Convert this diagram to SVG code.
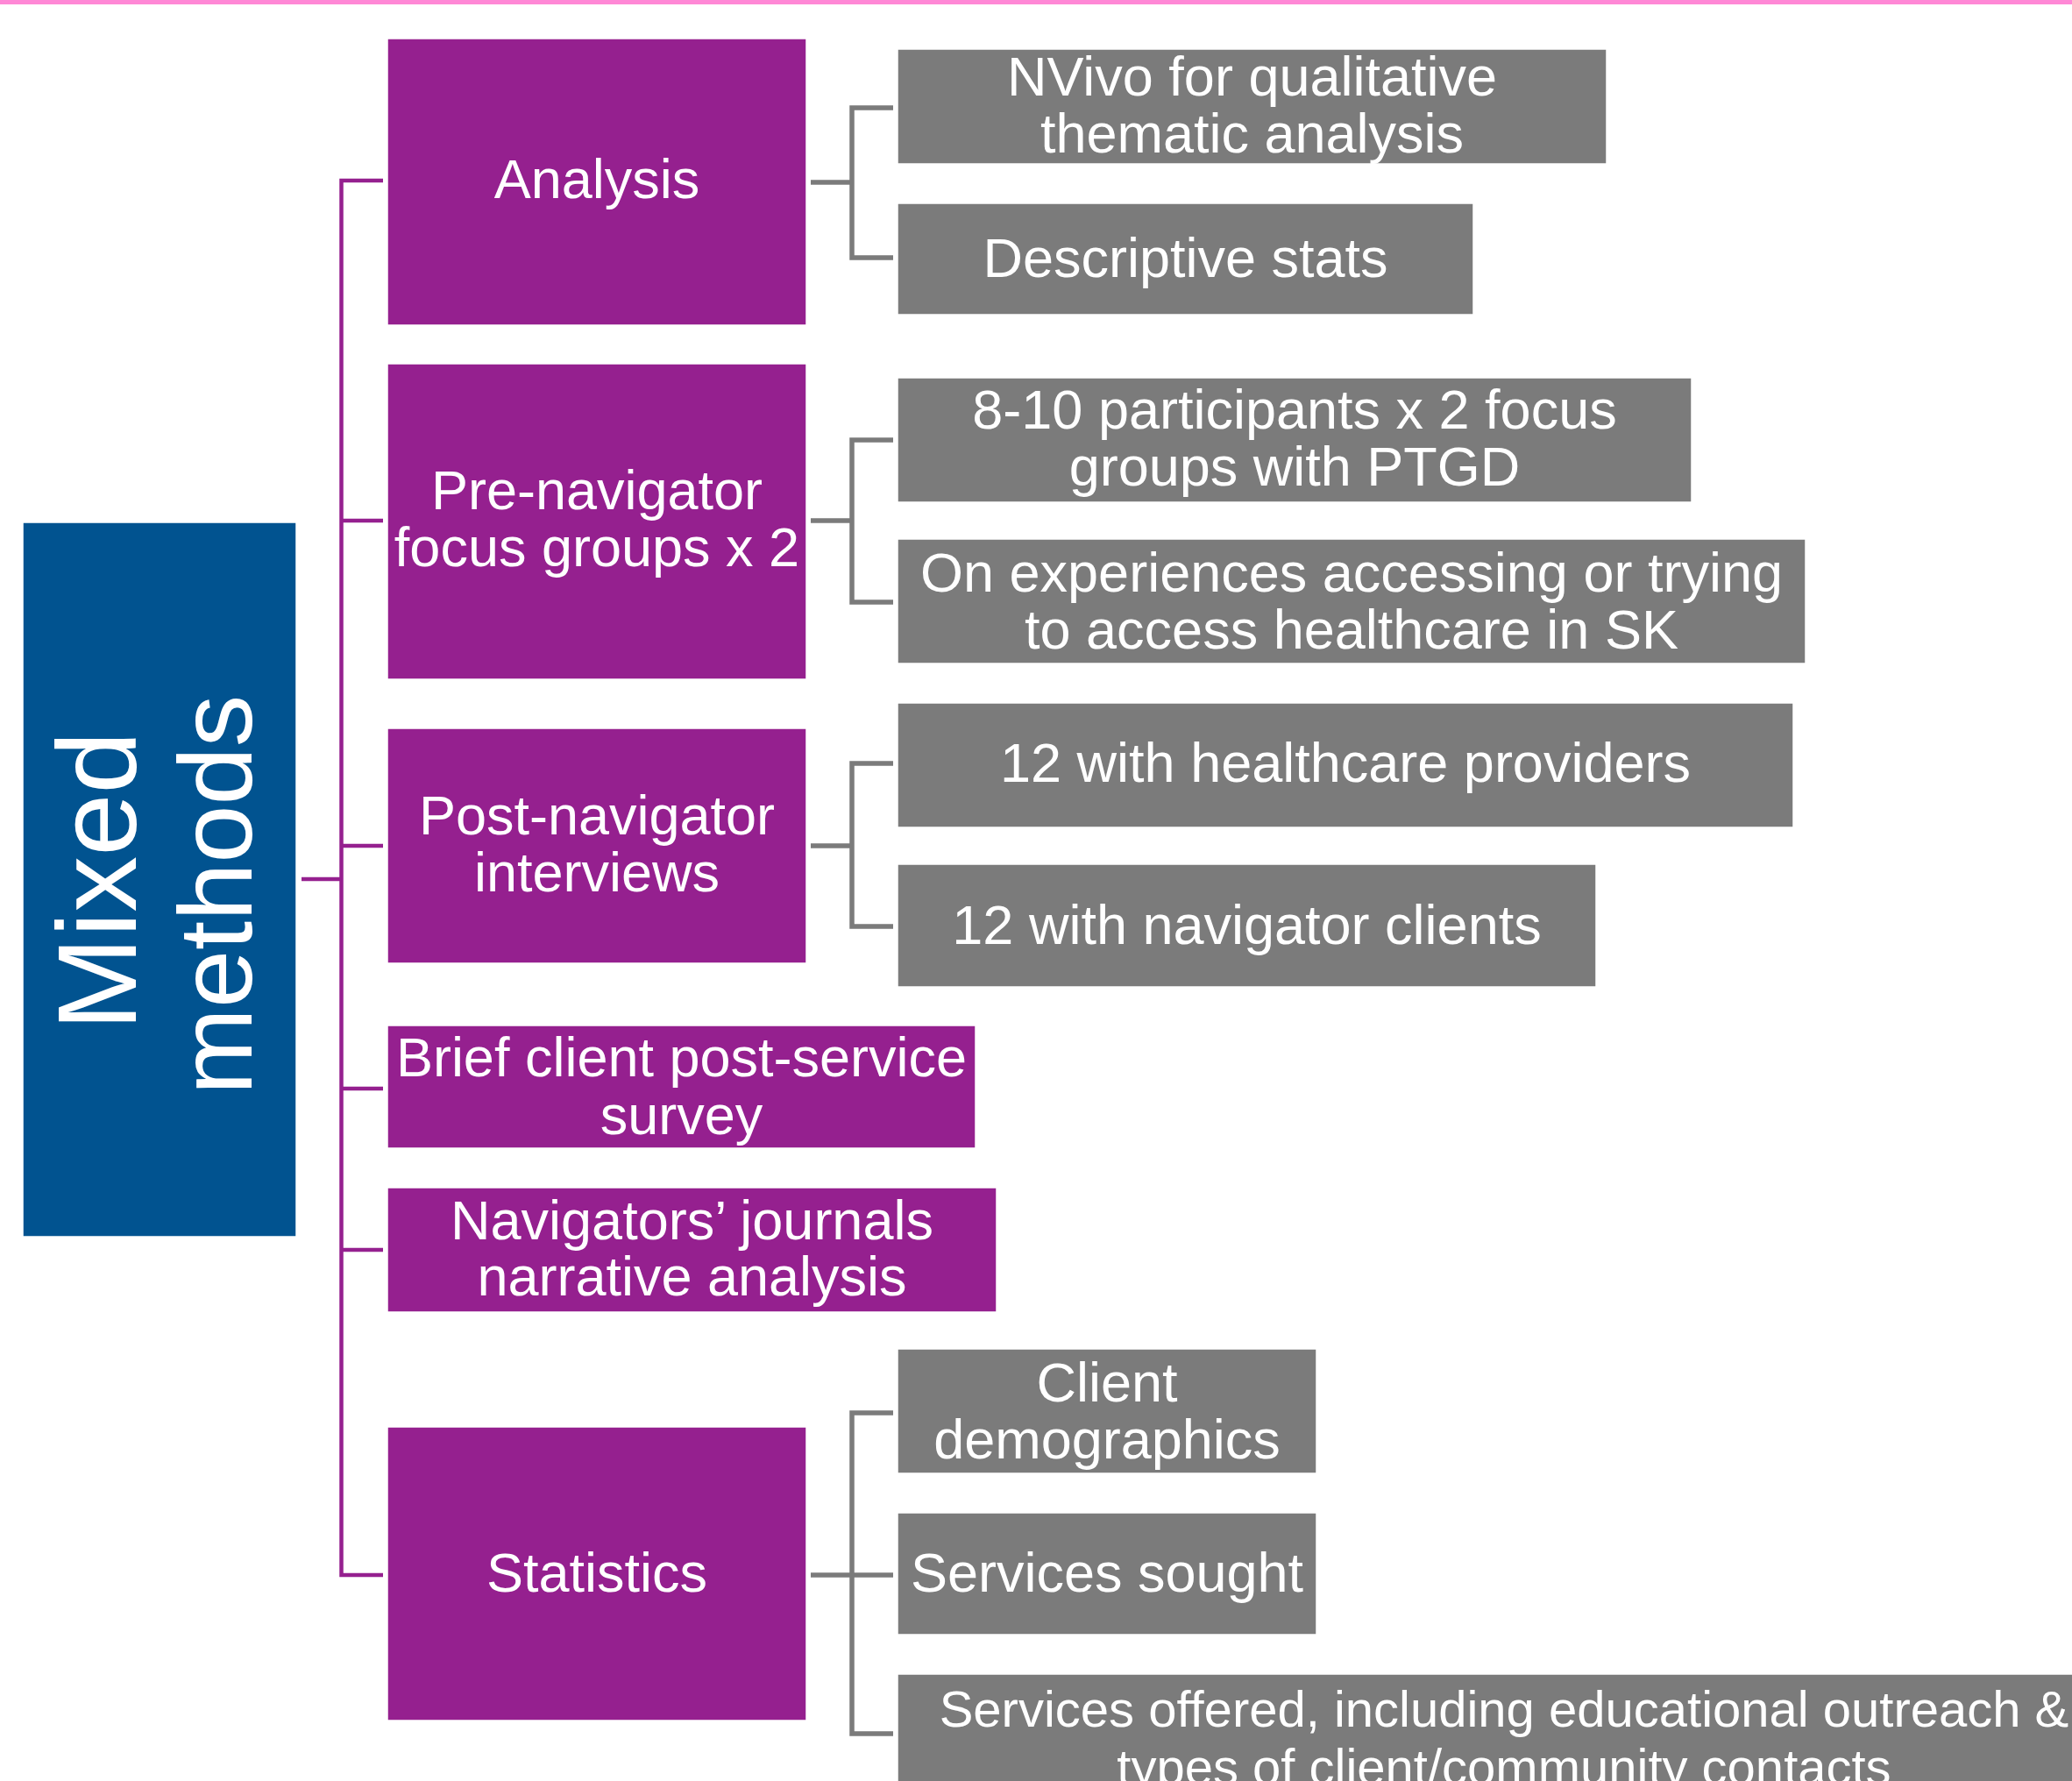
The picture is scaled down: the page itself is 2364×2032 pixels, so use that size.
<svg xmlns="http://www.w3.org/2000/svg" width="2364" height="2032" viewBox="0 0 2364 2032">
<style>
.p{fill:#95208F;stroke:#ffffff;stroke-width:1.5}
.g{fill:#7B7B7B;stroke:#ffffff;stroke-width:1.5}
.b{fill:#015390;stroke:#ffffff;stroke-width:1.5}
text{font-family:"Liberation Sans",Arial,sans-serif;fill:#ffffff;text-anchor:middle;font-size:63px}
.cp{fill:none;stroke:#95208F;stroke-width:4.5}
.cg{fill:none;stroke:#7B7B7B;stroke-width:5.5}
</style>
<rect x="0" y="0" width="2364" height="2032" fill="#ffffff"/>
<rect x="0" y="0" width="2364" height="5" fill="#FF88D6"/>
<g id="connectors">
<path class="cp" d="M344 1003 H389.5"/>
<path class="cp" d="M437 206 H389.5 V1797 H437"/>
<path class="cp" d="M389.5 594 H437"/>
<path class="cp" d="M389.5 965 H437"/>
<path class="cp" d="M389.5 1242 H437"/>
<path class="cp" d="M389.5 1426 H437"/>
<path class="cg" d="M925 208 H972"/>
<path class="cg" d="M1019 123 H972 V294 H1019"/>
<path class="cg" d="M925 594 H972"/>
<path class="cg" d="M1019 502 H972 V687 H1019"/>
<path class="cg" d="M925 965 H972"/>
<path class="cg" d="M1019 871 H972 V1057 H1019"/>
<path class="cg" d="M925 1797 H1019"/>
<path class="cg" d="M1019 1612 H972 V1978 H1019"/>
</g>
<g id="mixed-methods">
<rect class="b" x="26" y="596" width="312" height="815"/>
<text transform="translate(155,1005) rotate(-90)" style="font-size:128px">Mixed</text>
<text transform="translate(287,1021) rotate(-90)" style="font-size:119px">methods</text>
</g>
<g id="analysis">
<rect class="p" x="442" y="44" width="478" height="327"/>
<text x="681" y="226">Analysis</text>
</g>
<g id="pre-navigator">
<rect class="p" x="442" y="415" width="478" height="360"/>
<text x="681" y="581">Pre-navigator</text>
<text x="681" y="646">focus groups x 2</text>
</g>
<g id="post-navigator">
<rect class="p" x="442" y="831" width="478" height="268"/>
<text x="681" y="952">Post-navigator</text>
<text x="681" y="1017">interviews</text>
</g>
<g id="brief-survey">
<rect class="p" x="442" y="1170" width="671" height="140"/>
<text x="777.5" y="1228">Brief client post-service</text>
<text x="777.5" y="1294">survey</text>
</g>
<g id="journals">
<rect class="p" x="442" y="1355" width="695" height="142"/>
<text x="789.5" y="1414">Navigators’ journals</text>
<text x="789.5" y="1478">narrative analysis</text>
</g>
<g id="statistics">
<rect class="p" x="442" y="1628" width="478" height="335"/>
<text x="681" y="1816">Statistics</text>
</g>
<g id="nvivo">
<rect class="g" x="1024" y="56" width="809" height="131"/>
<text x="1428.5" y="109">NVivo for qualitative</text>
<text x="1428.5" y="174">thematic analysis</text>
</g>
<g id="descriptive">
<rect class="g" x="1024" y="232" width="657" height="127"/>
<text x="1352.5" y="316">Descriptive stats</text>
</g>
<g id="participants">
<rect class="g" x="1024" y="431" width="906" height="142"/>
<text x="1477" y="489">8-10 participants x 2 focus</text>
<text x="1477" y="554">groups with PTGD</text>
</g>
<g id="experiences">
<rect class="g" x="1024" y="615" width="1036" height="142"/>
<text x="1542" y="675">On experiences accessing or trying</text>
<text x="1542" y="740">to access healthcare in SK</text>
</g>
<g id="providers">
<rect class="g" x="1024" y="802" width="1022" height="142"/>
<text x="1535" y="892">12 with healthcare providers</text>
</g>
<g id="clients">
<rect class="g" x="1024" y="986" width="797" height="140"/>
<text x="1422.5" y="1077">12 with navigator clients</text>
</g>
<g id="demographics">
<rect class="g" x="1024" y="1539" width="478" height="142"/>
<text x="1263" y="1599">Client</text>
<text x="1263" y="1664">demographics</text>
</g>
<g id="sought">
<rect class="g" x="1024" y="1726" width="478" height="139"/>
<text x="1263" y="1816">Services sought</text>
</g>
<g id="offered">
<rect class="g" x="1024" y="1910" width="1384" height="140"/>
<text x="1716" y="1970" style="font-size:58px">Services offered, including educational outreach &amp;</text>
<text x="1716" y="2036" style="font-size:58px">types of client/community contacts</text>
</g>
</svg>
